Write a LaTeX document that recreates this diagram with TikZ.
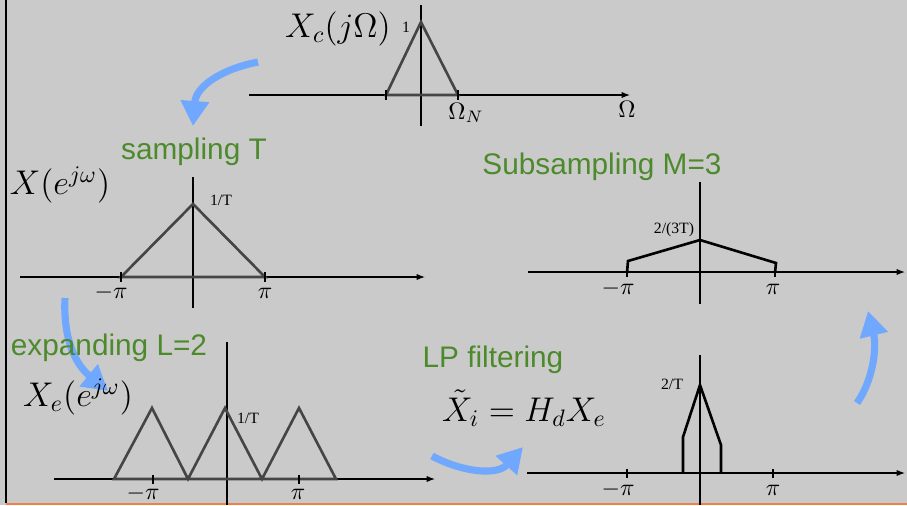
\documentclass[tikz,border=0pt]{standalone}
\usepackage{fontspec}
\setmainfont{Liberation Serif}
\setsansfont{Liberation Sans}
\usetikzlibrary{arrows.meta}
\definecolor{bggray}{HTML}{CACACA}
\definecolor{specgray}{HTML}{454545}
\definecolor{stepgreen}{HTML}{4C8A2C}
\definecolor{flowblue}{HTML}{70A8FF}
\definecolor{edgeorange}{HTML}{F08048}

\begin{document}
\begin{tikzpicture}[
  x=0.42pt, y=-0.42pt,
  every node/.style={inner sep=0pt},
  axis/.style={black, line width=0.45pt, -{Latex[length=3.5pt,width=2.6pt]}},
  vaxis/.style={black, line width=0.45pt},
  tickmark/.style={black, line width=0.45pt},
  spec/.style={draw=specgray, line width=1.1pt, line join=miter},
  specdark/.style={draw=black, line width=1.1pt, line join=miter},
  steplabel/.style={text=stepgreen, font=\sffamily\fontsize{12.5}{15}\selectfont},
  valuelabel/.style={font=\rmfamily\fontsize{6.6}{7}\selectfont},
  ticklabel/.style={font=\fontsize{10}{12}\selectfont},
  specname/.style={font=\fontsize{14}{17}\selectfont},
  flow/.style={draw=flowblue, line width=3pt, -{Triangle[length=10.5pt,width=11.5pt]}},
]
\fill[bggray] (0,0) rectangle (907,505);
\useasboundingbox (0,0) rectangle (907,505);
\draw[black, line width=1pt] (6,0) -- (6,503);
\fill[edgeorange] (6,502.5) rectangle (907,505);

\coordinate (f1a) at (258,62);
\coordinate (f1b) at (193,126);
\coordinate (f2a) at (65,298);
\coordinate (f2b) at (108,391);
\coordinate (f3a) at (432,456);
\coordinate (f3b) at (523,447);
\coordinate (f4a) at (857,403);
\coordinate (f4b) at (868,311);
\draw[flow] (f1a) .. controls (222,69) and (196,86) .. (f1b);
\draw[flow] (f2a) .. controls (63,338) and (75,364) .. (f2b);
\draw[flow] (f3a) .. controls (462,472) and (497,476) .. (f3b);
\draw[flow] (f4a) .. controls (873,380) and (877,348) .. (f4b);

\draw[axis] (249,95) -- (630,95);
\draw[vaxis] (421,5) -- (421,126);
\draw[spec] (386,95) -- (421,22) -- (458,95) -- cycle;
\draw[tickmark] (386,90) -- (386,100);
\draw[tickmark] (458,90) -- (458,100);
\node[specname] (xc) at (338,29) {$X_c(j\Omega)$};
\node[valuelabel] (xcpeak) at (406,27) {1};
\node[ticklabel] (omn) at (466,113) {$\Omega_N$};
\node[ticklabel] (om) at (627,109) {$\Omega$};

\node[steplabel] (samp) at (194,152) {sampling T};
\draw[axis] (20,277) -- (425,277);
\draw[vaxis] (193,177) -- (193,308);
\draw[spec] (121,277) -- (193,204) -- (265,277) -- cycle;
\draw[tickmark] (121,272) -- (121,282);
\draw[tickmark] (265,272) -- (265,282);
\node[specname] (xs) at (60,185) {$X(e^{j\omega})$};
\node[valuelabel] (xspeak) at (221,200) {1/T};
\node[ticklabel] (xsmpi) at (111,293) {$-\pi$};
\node[ticklabel] (xspi) at (265,293) {$\pi$};

\node[steplabel] (subs) at (602,167) {Subsampling M=3};
\draw[axis] (528,272) -- (905,272);
\draw[vaxis] (700,182) -- (700,304);
\draw[specdark] (627,273) -- (628,261) -- (700,240) -- (776,263) -- (775,273);
\draw[tickmark] (627,268) -- (627,277);
\draw[tickmark] (775,268) -- (775,277);
\node[valuelabel] (xdpeak) at (674,230) {2/(3T)};
\node[ticklabel] (xdmpi) at (618,289) {$-\pi$};
\node[ticklabel] (xdpi) at (773,289) {$\pi$};

\node[steplabel] (expd) at (109,348) {expanding L=2};
\draw[axis] (54,479) -- (435,479);
\draw[vaxis] (227,342) -- (227,505);
\draw[spec] (114,479) -- (152,408) -- (188,479) -- (225,408) -- (262,479) -- (299,408) -- (336,479) -- cycle;
\draw[tickmark] (153,475) -- (153,484);
\draw[tickmark] (299,475) -- (299,484);
\node[specname] (xe) at (78,397) {$X_e(e^{j\omega})$};
\node[valuelabel] (xepeak) at (248,418) {1/T};
\node[ticklabel] (xempi) at (143,494) {$-\pi$};
\node[ticklabel] (xepi) at (298,494) {$\pi$};

\node[steplabel] (lpf) at (493,360) {LP filtering};
\node[specname] (lpfeq) at (524,408) {$\tilde{X}_i = H_d X_e$};
\draw[axis] (527,473) -- (905,473);
\draw[vaxis] (700,355) -- (700,505);
\draw[specdark] (683,473) -- (683,437) -- (700,385) -- (721,445) -- (721,473);
\draw[tickmark] (627,469) -- (627,478);
\draw[tickmark] (773,469) -- (773,478);
\node[valuelabel] (xipeak) at (672,384) {2/T};
\node[ticklabel] (ximpi) at (618,490) {$-\pi$};
\node[ticklabel] (xipi) at (773,490) {$\pi$};
\end{tikzpicture}
\end{document}
